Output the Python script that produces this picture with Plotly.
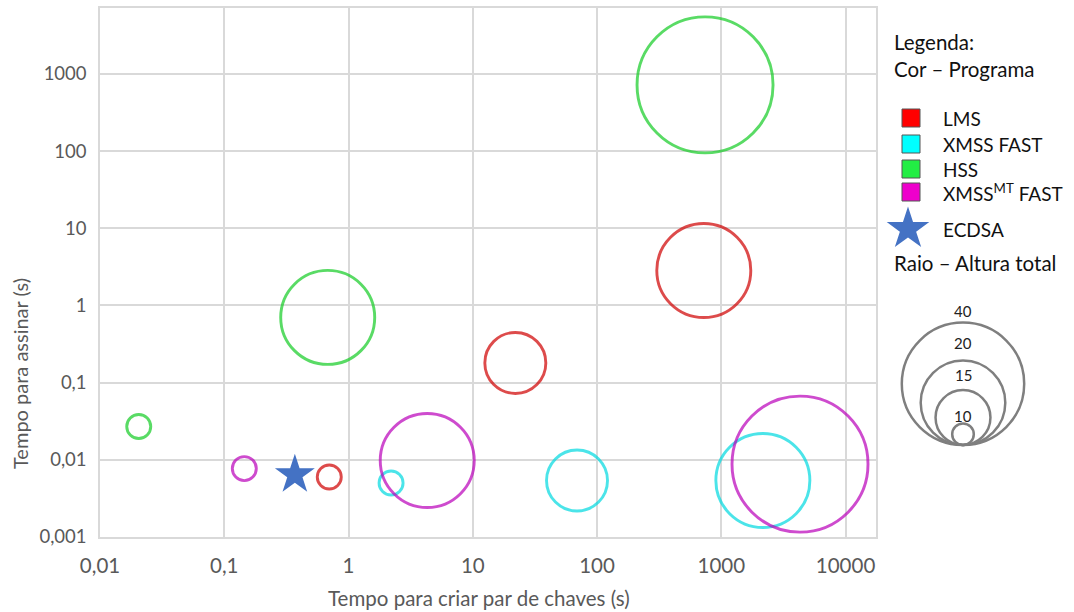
import plotly.graph_objects as go

# ---------------- data ----------------
lms_x = [0.7, 22, 723]
lms_y = [0.006, 0.18, 2.84]
lms_h = [10, 15, 20]

xmss_x = [2.2, 69, 2160]
xmss_y = [0.0050, 0.0054, 0.0054]
xmss_h = [10, 15, 20]

hss_x = [0.0205, 0.68, 740]
hss_y = [0.027, 0.70, 720]
hss_h = [10, 20, 40]

xmssmt_x = [0.145, 4.3, 4300]
xmssmt_y = [0.0077, 0.0098, 0.0088]
xmssmt_h = [10, 20, 40]

ecdsa_x = [0.37]
ecdsa_y = [0.0064]

x_tickvals = [0.01, 0.1, 1, 10, 100, 1000, 10000]
x_ticktext = ["0,01", "0,1", "1", "10", "100", "1000", "10000"]
y_tickvals = [0.001, 0.01, 0.1, 1, 10, 100, 1000]
y_ticktext = ["0,001", "0,01", "0,1", "1", "10", "100", "1000"]

legend_heights = [40, 20, 15, 10]

# ---------------- styles ----------------
W, H = 1074, 612
SIZE_PX = {10: 24, 15: 61, 20: 94, 40: 136}   # bubble size scale (height -> diameter px)
LEGEND_SCALE = 0.9

programs = [
    ("LMS", lms_x, lms_y, lms_h, "#D00000", "#FF0000"),
    ("XMSS FAST", xmss_x, xmss_y, xmss_h, "#00DAE0", "#00FFFF"),
    ("HSS", hss_x, hss_y, hss_h, "#14CC24", "#22EE44"),
    ("XMSS<sup>MT</sup> FAST", xmssmt_x, xmssmt_y, xmssmt_h, "#BA00BA", "#EE00CC"),
]

FONT = "Lato, 'Open Sans', sans-serif"

# plot area in pixels
PL, PR, PT, PB = 100, 876, 8, 537

fig = go.Figure()

for name, xs, ys, hs, col, _ in programs:
    fig.add_trace(go.Scatter(
        x=xs, y=ys, mode="markers", name=name, showlegend=False,
        marker=dict(size=[SIZE_PX[h] for h in hs], sizemode="diameter",
                    color="rgba(0,0,0,0)", line=dict(color=col, width=2.9)),
        cliponaxis=False,
    ))

fig.add_trace(go.Scatter(
    x=ecdsa_x, y=ecdsa_y, mode="markers", name="ECDSA", showlegend=False,
    marker=dict(symbol="star", size=30, color="#4472C4", line=dict(width=0)),
))

# ---------------- custom legend (pixel overlay axis) ----------------
leg_rows_y = [118, 144, 169, 192]
for (name, _, _, _, _, lcol), yy in zip(programs, leg_rows_y):
    fig.add_trace(go.Scatter(
        x=[911], y=[yy], mode="markers", xaxis="x2", yaxis="y2", showlegend=False,
        marker=dict(symbol="square", size=18, color=lcol, line=dict(color="#555555", width=1)),
        hoverinfo="skip",
    ))
    fig.add_annotation(x=941, y=yy, xref="x2", yref="y2", text=name, showarrow=False,
                       xanchor="left", yanchor="middle",
                       font=dict(family=FONT, size=19, color="#111111"))

fig.add_trace(go.Scatter(
    x=[908], y=[229], mode="markers", xaxis="x2", yaxis="y2", showlegend=False,
    marker=dict(symbol="star", size=32, color="#4472C4", line=dict(width=0)),
    hoverinfo="skip",
))
fig.add_annotation(x=941, y=229, xref="x2", yref="y2", text="ECDSA", showarrow=False,
                   xanchor="left", yanchor="middle",
                   font=dict(family=FONT, size=19, color="#111111"))

for txt, yy in [("Legenda:", 42), ("Cor – Programa", 69), ("Raio – Altura total", 263)]:
    fig.add_annotation(x=892, y=yy, xref="x2", yref="y2", text=txt, showarrow=False,
                       xanchor="left", yanchor="middle",
                       font=dict(family=FONT, size=20.5, color="#111111"))

# size legend
cx, bottom = 963, 445
label_y = {40: 311, 20: 343, 15: 375, 10: 416}
for h in legend_heights:
    d = SIZE_PX[h] * LEGEND_SCALE
    fig.add_shape(type="circle", xref="x2", yref="y2",
                  x0=cx - d / 2, x1=cx + d / 2, y0=bottom - d, y1=bottom,
                  line=dict(color="#7F7F7F", width=2.5))
    fig.add_annotation(x=cx, y=label_y[h], xref="x2", yref="y2", text=str(h), showarrow=False,
                       xanchor="center", yanchor="middle",
                       font=dict(family=FONT, size=15, color="#222222"))

# axis titles
fig.add_annotation(x=479, y=598, xref="x2", yref="y2", text="Tempo para criar par de chaves (s)",
                   showarrow=False, xanchor="center", yanchor="middle",
                   font=dict(family=FONT, size=20.5, color="#595959"))
fig.add_annotation(x=20, y=374, xref="x2", yref="y2", text="Tempo para assinar (s)",
                   showarrow=False, xanchor="center", yanchor="middle", textangle=-90,
                   font=dict(family=FONT, size=20, color="#595959"))

grid = "#D9D9D9"
fig.update_layout(
    width=W, height=H,
    margin=dict(l=0, r=0, t=0, b=0),
    paper_bgcolor="white", plot_bgcolor="rgba(0,0,0,0)",
    showlegend=False,
    xaxis=dict(type="log", range=[-2, 4.245], domain=[PL / W, PR / W],
               tickvals=x_tickvals, ticktext=x_ticktext,
               showgrid=True, gridcolor=grid, gridwidth=1.5,
               showline=True, linecolor=grid, linewidth=1.5, mirror=True,
               ticks="", zeroline=False, automargin=False, ticklabelstandoff=10,
               tickfont=dict(family=FONT, size=20.5, color="#595959")),
    yaxis=dict(type="log", range=[-3, 3.854], domain=[1 - PB / H, 1 - PT / H],
               tickvals=y_tickvals, ticktext=y_ticktext,
               showgrid=True, gridcolor=grid, gridwidth=1.5,
               showline=True, linecolor=grid, linewidth=1.5, mirror=True,
               ticks="", zeroline=False, automargin=False, ticklabelstandoff=8,
               tickfont=dict(family=FONT, size=18.5, color="#595959")),
    xaxis2=dict(range=[0, W], domain=[0, 1], visible=False, anchor="y2", fixedrange=True),
    yaxis2=dict(range=[H, 0], domain=[0, 1], visible=False, anchor="x2", fixedrange=True),
)

fig.write_html("out.html", post_script="document.body.style.margin='0';",
               config={"displayModeBar": False})
